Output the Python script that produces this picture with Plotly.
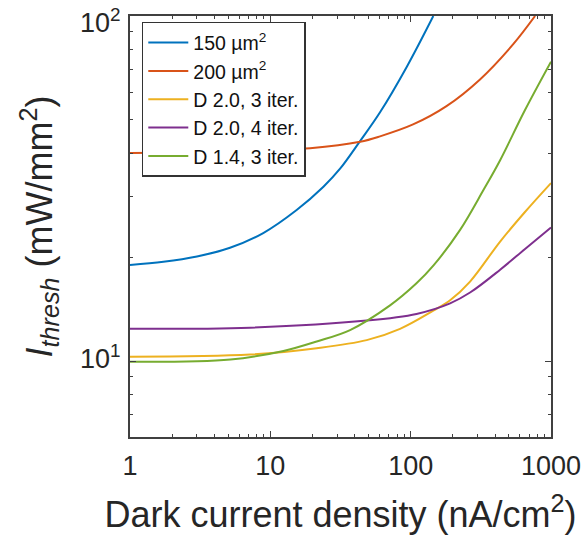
import math
import plotly.graph_objects as go

# Data (log-log)
x_150 = [1, 1.73, 3.0, 5.16, 8.9, 15.4, 23.9, 31.4, 43.6, 60.5, 93.7, 145]
y_150 = [19.0, 19.4, 20.1, 21.3, 23.5, 27.4, 32.0, 36.1, 43.4, 52.6, 71.2, 100]

x_200 = [1, 5, 19.2, 43.6, 60.5, 104, 180, 312, 540, 770]
y_200 = [40.1, 40.5, 41.4, 43.2, 44.8, 48.5, 54.8, 65.5, 83.0, 100]

x_d20_3 = [1, 7.2, 21.4, 48.6, 84, 145, 191, 265, 434, 650, 1000]
y_d20_3 = [10.3, 10.45, 10.9, 11.5, 12.4, 14.0, 15.0, 17.0, 22.2, 27.0, 32.8]

x_d20_4 = [1, 7.2, 48.6, 110, 191, 265, 434, 650, 1000]
y_d20_4 = [12.4, 12.5, 13.1, 13.7, 14.7, 15.8, 18.4, 21.1, 24.4]

x_d14_3 = [1, 5.2, 12.4, 21.4, 37, 71.3, 110, 145, 225, 330, 434, 650, 1000]
y_d14_3 = [9.95, 10.1, 10.7, 11.4, 12.3, 14.5, 16.8, 18.9, 24.0, 31.3, 38.2, 53.2, 73.7]

names = ["150 µm<sup>2</sup>", "200 µm<sup>2</sup>", "D 2.0, 3 iter.",
         "D 2.0, 4 iter.", "D 1.4, 3 iter."]
colors = ["#0072BD", "#D95319", "#EDB120", "#7E2F8E", "#77AC30"]
series = [(x_150, y_150), (x_200, y_200), (x_d20_3, y_d20_3),
          (x_d20_4, y_d20_4), (x_d14_3, y_d14_3)]

x_tickvals = [1, 10, 100, 1000]
x_ticktext = ["1", "10", "100", "1000"]
y_tickvals = [10, 100]
y_ticktext = ["10<sup>1</sup>", "10<sup>2</sup>"]

fig = go.Figure()
for (xs, ys), n, c in zip(series, names, colors):
    fig.add_trace(go.Scatter(x=xs, y=ys, mode="lines", name=n,
                             line=dict(color=c, width=2, shape="spline", smoothing=1.0)))

axcol = "#404040"
txtcol = "#262626"
x_minor = [m * 10 ** k for k in range(3) for m in range(2, 10)]
y_minor = [m * 10 ** k for k in range(0, 2) for m in range(2, 10)]

fig.update_xaxes(type="log", range=[0, 3], tickmode="array", tickvals=x_tickvals,
                 ticktext=x_ticktext, ticks="inside", ticklen=6, tickcolor=axcol,
                 showline=True, linecolor=axcol, linewidth=1.5, mirror="ticks",
                 showgrid=False, zeroline=False, automargin=False,
                 ticklabeloverflow="allow", ticklabelstandoff=4,
                 minor=dict(tickmode="array", tickvals=x_minor, ticks="inside",
                            ticklen=3, tickcolor=axcol, showgrid=False),
                 tickfont=dict(size=27, color=txtcol),
                 title=dict(text="Dark current density (nA/cm<sup>2</sup>)",
                            font=dict(size=36, color=txtcol), standoff=22))
# y tick labels drawn as annotations (so the top one can sit slightly lower, as in the reference)
fig.update_yaxes(type="log", range=[0.78, 2], tickmode="array", tickvals=y_tickvals,
                 showticklabels=False, ticks="inside", ticklen=6, tickcolor=axcol,
                 showline=True, linecolor=axcol, linewidth=1.5, mirror="ticks",
                 showgrid=False, zeroline=False, automargin=False,
                 minor=dict(tickmode="array", tickvals=y_minor, ticks="inside",
                            ticklen=3, tickcolor=axcol, showgrid=False),
                 title=dict(text="<i>I</i><sub><i>thresh</i></sub> (mW/mm<sup>2</sup>)",
                            font=dict(size=36, color=txtcol), standoff=65))

y_label_shift = {10: 4, 100: -5}
for v, t in zip(y_tickvals, y_ticktext):
    fig.add_annotation(x=0, xref="paper", xanchor="right", xshift=-7,
                       y=math.log10(v), yref="y", yanchor="middle",
                       yshift=y_label_shift[v], text=t, showarrow=False,
                       font=dict(size=27, color=txtcol))

fig.update_layout(
    width=583, height=539,
    margin=dict(l=130, r=32, t=16, b=102),
    plot_bgcolor="white", paper_bgcolor="white",
    font=dict(family="Liberation Sans, Arial, sans-serif"),
    showlegend=True,
    legend=dict(x=0.028, y=0.986, xanchor="left", yanchor="top",
                bgcolor="white", bordercolor="#333333", borderwidth=1.5,
                font=dict(size=19.5, color="#111111"), tracegroupgap=0,
                itemwidth=40),
)

fig.write_html("out.html", config={"displayModeBar": False},
               post_script="document.body.style.margin='0px';document.body.style.overflow='hidden';")
